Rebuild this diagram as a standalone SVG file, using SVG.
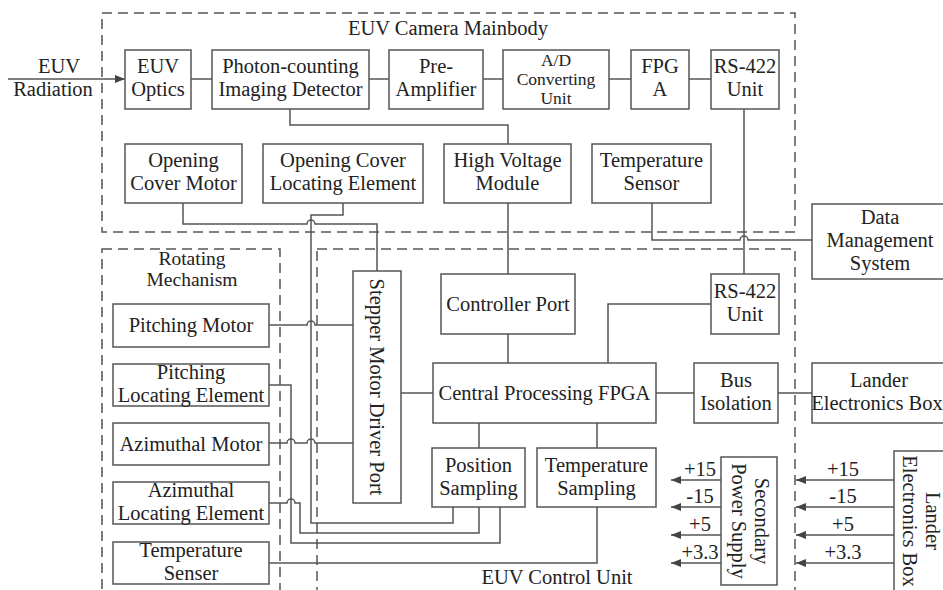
<svg xmlns="http://www.w3.org/2000/svg" width="943" height="590" viewBox="0 0 943 590">
<style>
.b{fill:#fff;stroke:#555;stroke-width:1.5}
.l{fill:none;stroke:#555;stroke-width:1.5}
.d{fill:none;stroke:#555;stroke-width:1.5;stroke-dasharray:10 6}
text{font-family:"Liberation Serif","Times New Roman",serif;font-size:20.5px;fill:#222;text-anchor:middle}
.s{font-size:17.5px}
.r{font-size:19.5px}
</style>
<defs>
<marker id="ah" markerUnits="userSpaceOnUse" markerWidth="10" markerHeight="8" refX="10" refY="4" orient="auto">
<path d="M0,0 L10,4 L0,8 z" fill="#444"/>
</marker>
</defs>
<rect width="943" height="590" fill="#fff"/>

<g id="groups">
<rect class="d" x="102" y="13" width="693" height="219"/>
<text x="448" y="35">EUV Camera Mainbody</text>
<rect class="d" x="102" y="249" width="178" height="360"/>
<text class="r" x="192" y="265">Rotating</text>
<text class="r" x="192" y="286">Mechanism</text>
<rect class="d" x="317" y="249" width="478" height="360"/>
<text x="557" y="584">EUV Control Unit</text>
</g>

<g id="connectors">
<line class="l" x1="8" y1="79" x2="125" y2="79" marker-end="url(#ah)"/>
<line class="l" x1="191" y1="79" x2="212" y2="79"/>
<line class="l" x1="369" y1="79" x2="389" y2="79"/>
<line class="l" x1="483" y1="79" x2="503" y2="79"/>
<line class="l" x1="609" y1="79" x2="631" y2="79"/>
<line class="l" x1="689" y1="79" x2="711" y2="79"/>
<path class="l" d="M290,109 V125 H508 V144"/>
<path class="l" d="M508,203 V274"/>
<path class="l" d="M508,334 V363"/>
<path class="l" d="M401,393 H433"/>
<path class="l" d="M608,363 V304 H711"/>
<path class="l" d="M744,109 V274"/>
<path class="l" d="M652,203 V240 H740 a4,4 0 0 1 8,0 H812"/>
<path class="l" d="M656,393 H694"/>
<path class="l" d="M778,393 H812"/>
<path class="l" d="M479,423 V448"/>
<path class="l" d="M597,423 V448"/>
<path class="l" d="M343,203 V215 H311 V523 H453 V507"/>
<path class="l" d="M183,203 V224 H307 a4,4 0 0 1 8,0 H377 V271"/>
<path class="l" d="M269,325 H307 a4,4 0 0 1 8,0 H353"/>
<path class="l" d="M269,385 H291 V543 H500 V507"/>
<path class="l" d="M269,443 H287 a4,4 0 0 1 8,0 H307 a4,4 0 0 1 8,0 H353"/>
<path class="l" d="M269,503 H287 a4,4 0 0 1 8,0 H300 V533 H479 V507"/>
<path class="l" d="M269,563 H597 V507"/>
<line class="l" x1="721" y1="480" x2="671" y2="480" marker-end="url(#ah)"/>
<line class="l" x1="721" y1="507" x2="671" y2="507" marker-end="url(#ah)"/>
<line class="l" x1="721" y1="535" x2="671" y2="535" marker-end="url(#ah)"/>
<line class="l" x1="721" y1="563" x2="671" y2="563" marker-end="url(#ah)"/>
<line class="l" x1="894" y1="480" x2="796" y2="480" marker-end="url(#ah)"/>
<line class="l" x1="894" y1="507" x2="796" y2="507" marker-end="url(#ah)"/>
<line class="l" x1="894" y1="535" x2="796" y2="535" marker-end="url(#ah)"/>
<line class="l" x1="894" y1="563" x2="796" y2="563" marker-end="url(#ah)"/>
<text x="59" y="73">EUV</text>
<text x="53" y="96">Radiation</text>
<text x="700" y="476">+15</text>
<text x="700" y="503">-15</text>
<text x="700" y="531">+5</text>
<text x="700" y="559">+3.3</text>
<text x="843" y="476">+15</text>
<text x="843" y="503">-15</text>
<text x="843" y="531">+5</text>
<text x="843" y="559">+3.3</text>
</g>

<g id="euv-optics"><rect class="b" x="125" y="50" width="66" height="59"/><text x="158" y="73">EUV</text><text x="158" y="96">Optics</text></g>
<g id="detector"><rect class="b" x="212" y="50" width="157" height="59"/><text x="290.5" y="73">Photon-counting</text><text x="290.5" y="96">Imaging Detector</text></g>
<g id="pre-amplifier"><rect class="b" x="389" y="50" width="94" height="59"/><text x="436" y="73">Pre-</text><text x="436" y="96">Amplifier</text></g>
<g id="ad-unit"><rect class="b" x="503" y="50" width="106" height="59"/><text class="s" x="556" y="66">A/D</text><text class="s" x="556" y="85">Converting</text><text class="s" x="556" y="104">Unit</text></g>
<g id="fpga-top"><rect class="b" x="631" y="50" width="58" height="59"/><text x="660" y="73">FPG</text><text x="660" y="96">A</text></g>
<g id="rs422-top"><rect class="b" x="711" y="50" width="68" height="59"/><text x="745" y="73">RS-422</text><text x="745" y="96">Unit</text></g>

<g id="cover-motor"><rect class="b" x="125" y="144" width="117" height="59"/><text x="183.5" y="167">Opening</text><text x="183.5" y="190">Cover Motor</text></g>
<g id="cover-locating"><rect class="b" x="263" y="144" width="160" height="59"/><text x="343" y="167">Opening Cover</text><text x="343" y="190">Locating Element</text></g>
<g id="hv-module"><rect class="b" x="444" y="144" width="127" height="59"/><text x="507.5" y="167">High Voltage</text><text x="507.5" y="190">Module</text></g>
<g id="temp-sensor"><rect class="b" x="592" y="144" width="119" height="59"/><text x="651.5" y="167">Temperature</text><text x="651.5" y="190">Sensor</text></g>

<g id="dms"><rect class="b" x="812" y="204" width="140" height="75"/><text x="880" y="224">Data</text><text x="880" y="247">Management</text><text x="880" y="270">System</text></g>

<g id="stepper-port"><rect class="b" x="353" y="271" width="48" height="232"/><text transform="rotate(90 377 387)" x="377" y="394">Stepper Motor Driver Port</text></g>
<g id="controller-port"><rect class="b" x="441" y="274" width="134" height="60"/><text x="508" y="311">Controller Port</text></g>
<g id="rs422-bottom"><rect class="b" x="711" y="274" width="68" height="60"/><text x="745" y="298">RS-422</text><text x="745" y="321">Unit</text></g>
<g id="cpu-fpga"><rect class="b" x="433" y="363" width="223" height="60"/><text x="544.5" y="400">Central Processing FPGA</text></g>
<g id="bus-isolation"><rect class="b" x="694" y="363" width="84" height="60"/><text x="736" y="387">Bus</text><text x="736" y="410">Isolation</text></g>
<g id="lander-box"><rect class="b" x="812" y="363" width="140" height="60"/><text x="879" y="387">Lander</text><text x="877" y="410">Electronics Box</text></g>
<g id="position-sampling"><rect class="b" x="432" y="448" width="93" height="59"/><text x="478.5" y="472">Position</text><text x="478.5" y="495">Sampling</text></g>
<g id="temp-sampling"><rect class="b" x="537" y="448" width="119" height="59"/><text x="596.5" y="472">Temperature</text><text x="596.5" y="495">Sampling</text></g>

<g id="pitching-motor"><rect class="b" x="113" y="304" width="156" height="43"/><text x="191" y="332">Pitching Motor</text></g>
<g id="pitching-locating"><rect class="b" x="113" y="364" width="156" height="42"/><text x="191" y="379">Pitching</text><text x="191" y="402">Locating Element</text></g>
<g id="azimuthal-motor"><rect class="b" x="113" y="423" width="156" height="42"/><text x="191" y="451">Azimuthal Motor</text></g>
<g id="azimuthal-locating"><rect class="b" x="113" y="482" width="156" height="42"/><text x="191" y="497">Azimuthal</text><text x="191" y="520">Locating Element</text></g>
<g id="temp-senser"><rect class="b" x="113" y="542" width="156" height="42"/><text x="191" y="557">Temperature</text><text x="191" y="580">Senser</text></g>

<g id="secondary-power"><rect class="b" x="721" y="457" width="56" height="128"/><text transform="rotate(90 749 521)" x="749" y="515">Secondary</text><text transform="rotate(90 749 521)" x="749" y="538">Power Supply</text></g>
<g id="lander-box-power"><rect class="b" x="894" y="451" width="60" height="150"/><text transform="rotate(90 920 521)" x="920" y="515">Lander</text><text transform="rotate(90 920 521)" x="920" y="538">Electronics Box</text></g>
</svg>
